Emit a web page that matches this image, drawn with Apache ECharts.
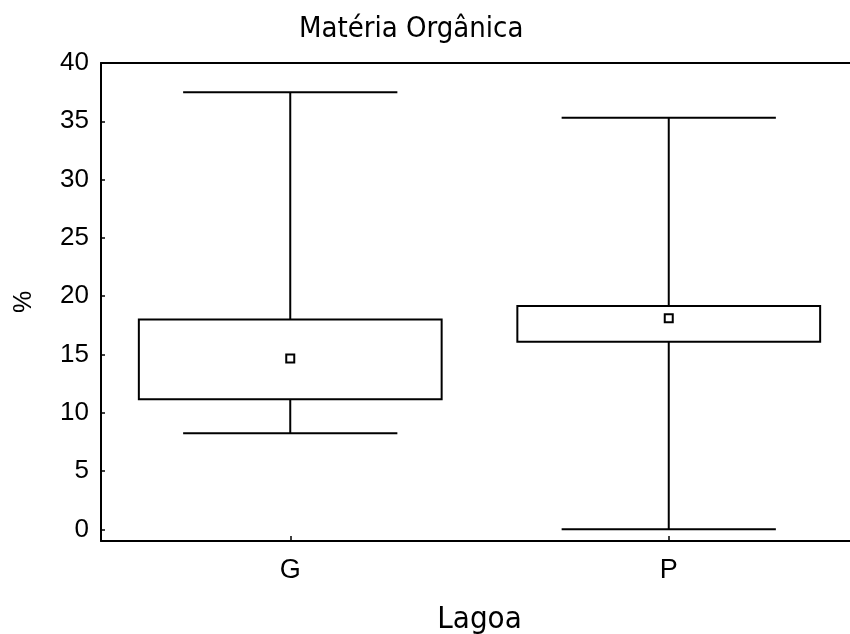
<!DOCTYPE html>
<html>
<head>
<meta charset="utf-8">
<script src="https://cdn.jsdelivr.net/npm/echarts@6/dist/echarts.min.js"></script>
<style>html,body{margin:0;padding:0;background:#fff}#c{width:850px;height:634px}</style>
</head>
<body>
<div id="c"></div>
<script>
const categories = ['G', 'P'];
const whiskerLow = [8.25, 0.0];
const boxLow = [11.15, 16.1];
const meanValue = [14.65, 18.1];
const boxHigh = [18.0, 19.15];
const whiskerHigh = [37.5, 35.3];
const yTicks = [0, 5, 10, 15, 20, 25, 30, 35, 40];

const data = categories.map((c, i) => [i, whiskerLow[i], boxLow[i], meanValue[i], boxHigh[i], whiskerHigh[i]]);

const chart = echarts.init(document.getElementById('c'), null, {renderer: 'canvas'});
const lineStyle = {stroke: '#000', lineWidth: 2, fill: null};

chart.setOption({
  animation: false,
  backgroundColor: '#fff',
  title: {
    text: 'Matéria Orgânica',
    left: 294, top: 10,
    textStyle: {fontFamily: 'DejaVu Sans Condensed', fontSize: 29, fontWeight: 'normal', color: '#000'}
  },
  grid: {left: 101, top: 63, width: 757, height: 478, outerBoundsMode: 'none', containLabel: false},
  xAxis: [{
    type: 'category',
    data: categories,
    position: 'bottom',
    name: 'Lagoa',
    nameLocation: 'middle',
    nameGap: 63,
    nameTextStyle: {fontFamily: 'DejaVu Sans Condensed', fontSize: 31, color: '#000'},
    axisLine: {onZero: false, lineStyle: {color: '#000', width: 2}},
    axisTick: {show: true, inside: true, alignWithLabel: true, length: 5, lineStyle: {color: '#000', width: 1.5}},
    axisLabel: {fontFamily: 'Liberation Sans', fontSize: 27, color: '#000', margin: 16},
    splitLine: {show: false}
  }, {
    type: 'category',
    data: categories,
    position: 'top',
    axisLine: {onZero: false, lineStyle: {color: '#000', width: 2}},
    axisTick: {show: false},
    axisLabel: {show: false},
    splitLine: {show: false}
  }],
  yAxis: {
    type: 'value',
    min: -1, max: 40,
    name: '%',
    nameLocation: 'middle',
    nameGap: 64,
    nameRotate: 90,
    nameTextStyle: {fontFamily: 'Liberation Sans', fontSize: 25, color: '#000'},
    axisLine: {show: true, onZero: false, lineStyle: {color: '#000', width: 2}},
    axisTick: {show: true, inside: true, length: 4, customValues: yTicks, lineStyle: {color: '#000', width: 1.5}},
    axisLabel: {fontFamily: 'Liberation Sans', fontSize: 26, color: '#000', margin: 12, customValues: yTicks},
    splitLine: {show: false}
  },
  series: [{
    type: 'custom',
    xAxisIndex: 0,
    data: data,
    encode: {x: 0, y: [1, 2, 3, 4, 5]},
    renderItem: function (params, api) {
      const idx = api.value(0);
      const x = api.coord([idx, 0])[0];
      const band = api.size([1, 0])[0];
      const bw = band * 0.8;
      const cw = band * 0.566;
      const yLo = api.coord([idx, api.value(1)])[1];
      const yQ1 = api.coord([idx, api.value(2)])[1];
      const yM = api.coord([idx, api.value(3)])[1];
      const yQ3 = api.coord([idx, api.value(4)])[1];
      const yHi = api.coord([idx, api.value(5)])[1];
      return {
        type: 'group',
        children: [
          {type: 'line', shape: {x1: x, y1: yHi, x2: x, y2: yQ3}, style: lineStyle},
          {type: 'line', shape: {x1: x, y1: yQ1, x2: x, y2: yLo}, style: lineStyle},
          {type: 'line', shape: {x1: x - cw / 2, y1: yHi, x2: x + cw / 2, y2: yHi}, style: lineStyle},
          {type: 'line', shape: {x1: x - cw / 2, y1: yLo, x2: x + cw / 2, y2: yLo}, style: lineStyle},
          {type: 'rect', shape: {x: x - bw / 2, y: yQ3, width: bw, height: yQ1 - yQ3}, style: {stroke: '#000', lineWidth: 2, fill: '#fff'}},
          {type: 'rect', shape: {x: x - 4, y: yM - 4, width: 8, height: 8}, style: {stroke: '#000', lineWidth: 2, fill: '#fff'}}
        ]
      };
    }
  }]
});
</script>
</body>
</html>
